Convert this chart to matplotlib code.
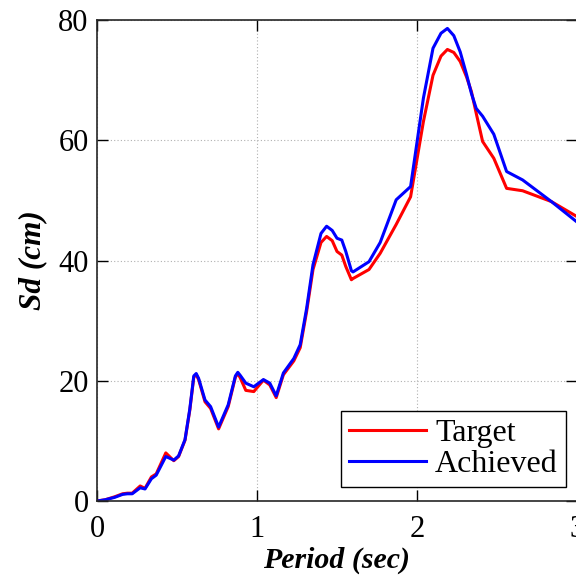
import numpy as np
import matplotlib.pyplot as plt

# ---------------------------------------------------------
# Spectral displacement: target vs achieved
# ---------------------------------------------------------
period = [0.00, 0.05, 0.11, 0.16, 0.19, 0.22, 0.27, 0.30, 0.34, 0.37,
          0.43, 0.48, 0.51, 0.55, 0.58, 0.605, 0.62, 0.635, 0.675, 0.71,
          0.76, 0.82, 0.865, 0.88, 0.895, 0.93, 0.98, 1.04, 1.08, 1.12,
          1.165, 1.23, 1.27, 1.31, 1.35, 1.40, 1.435, 1.47, 1.50, 1.53,
          1.555, 1.59, 1.60, 1.70, 1.77, 1.87, 1.96, 2.04, 2.10, 2.15,
          2.19, 2.23, 2.27, 2.31, 2.34, 2.37, 2.41, 2.48, 2.56, 2.66,
          2.84, 3.00]

sd_target = [0.0, 0.2, 0.7, 1.2, 1.3, 1.3, 2.5, 2.1, 4.0, 4.5,
             8.0, 6.7, 7.4, 10.1, 15.1, 20.6, 21.0, 20.2, 16.5, 15.4,
             12.0, 15.7, 20.6, 21.2, 20.5, 18.4, 18.2, 20.1, 19.3, 17.2,
             21.0, 23.3, 25.5, 31.5, 38.5, 43.0, 44.0, 43.3, 41.5, 40.9,
             39.0, 36.8, 37.0, 38.5, 41.2, 46.0, 50.6, 63.1, 70.8, 74.0,
             75.1, 74.6, 73.1, 70.5, 68.1, 64.5, 59.8, 57.0, 52.0, 51.6,
             49.8, 47.3]

sd_achieved = [0.0, 0.2, 0.6, 1.1, 1.2, 1.2, 2.2, 2.0, 3.7, 4.3,
               7.4, 6.8, 7.5, 10.2, 15.3, 20.8, 21.2, 20.4, 16.8, 15.7,
               12.3, 16.0, 20.8, 21.4, 20.9, 19.6, 19.0, 20.2, 19.6, 17.5,
               21.3, 23.7, 26.0, 32.0, 39.3, 44.5, 45.7, 45.0, 43.7, 43.4,
               41.5, 38.3, 38.1, 39.8, 43.0, 50.1, 52.3, 67.0, 75.3, 77.8,
               78.6, 77.4, 74.7, 70.9, 67.8, 65.3, 64.0, 61.0, 54.8, 53.4,
               49.8, 46.4]

plt.rcParams['font.family'] = ['Liberation Serif', 'DejaVu Serif']

fig = plt.figure(figsize=(5.76, 5.82), dpi=100)
ax = fig.add_axes([97 / 576, 81 / 582, 480 / 576, 481 / 582])

ax.plot(period, sd_target, color='#ff0000', lw=2.2, label='Target')
ax.plot(period, sd_achieved, color='#0000ff', lw=2.2, label='Achieved')

ax.set_xlim(0, 3)
ax.set_ylim(0, 80)
ax.set_xticks([0, 1, 2, 3])
ax.set_yticks([0, 20, 40, 60, 80])

ax.grid(True, color='#b0b0b0', linestyle=(0, (1, 2)), linewidth=0.8)
ax.tick_params(direction='in', length=8, width=1, labelsize=22,
               top=True, right=True)
ax.tick_params(axis='x', pad=10)
ax.tick_params(axis='y', pad=6)
for side in ['left', 'bottom', 'top', 'right']:
    ax.spines[side].set_linewidth(1.2)
    ax.spines[side].set_color('#262626')

ax.set_xlabel('Period (sec)', fontsize=21.5, fontweight='bold',
              fontstyle='italic', labelpad=2)
ax.set_ylabel('Sd (cm)', fontsize=22.5, fontweight='bold',
              fontstyle='italic', labelpad=8)

leg = ax.legend(loc='lower right', bbox_to_anchor=(0.977, 0.029),
                borderaxespad=0, fontsize=23, handlelength=2.4,
                fancybox=False, framealpha=1, edgecolor='black',
                borderpad=0.25, labelspacing=0.05, handletextpad=0.3)
leg.get_frame().set_linewidth(1.0)

fig.savefig('out.png', dpi=100)
